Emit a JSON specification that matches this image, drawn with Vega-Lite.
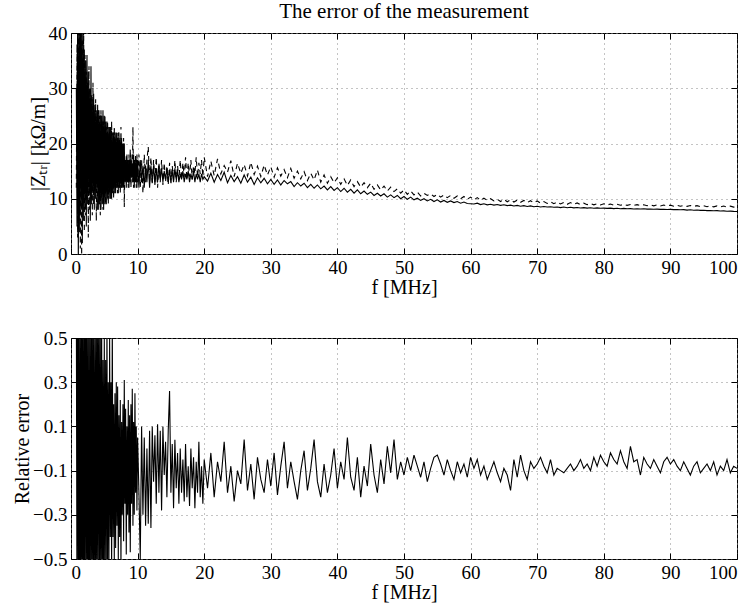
{
  "$schema": "https://vega.github.io/schema/vega-lite/v6.json",
  "background": "white",
  "padding": {"left": 12, "top": 0, "right": 15, "bottom": 5},
  "data": {"values": [
    {"f":0.8,"z":30,"d":12,"e":0.7},{"f":0.9,"z":5,"d":38,"e":-0.8},{"f":1.0,"z":44,"d":3,"e":0.9},{"f":1.1,"z":-2,"d":45,"e":-0.6},
    {"f":1.2,"z":42,"d":6,"e":0.8},{"f":1.3,"z":4,"d":41,"e":-0.9},{"f":1.4,"z":46,"d":1,"e":0.5},{"f":1.5,"z":8,"d":44,"e":-0.7},
    {"f":1.6,"z":40,"d":-1,"e":0.9},{"f":1.7,"z":2,"d":39,"e":-0.8},{"f":1.8,"z":43,"d":9,"e":0.6},{"f":1.9,"z":6,"d":42,"e":-0.9},
    {"f":2.0,"z":37,"d":4,"e":0.8},{"f":2.1,"z":8,"d":36,"e":-0.7},{"f":2.2,"z":35,"d":7,"e":0.9},{"f":2.3,"z":5,"d":33,"e":-0.6},
    {"f":2.4,"z":36,"d":10,"e":0.7},{"f":2.5,"z":9,"d":31,"e":-0.8},{"f":2.6,"z":33,"d":3,"e":0.6},{"f":2.7,"z":11,"d":34,"e":-0.9},
    {"f":2.8,"z":30,"d":8,"e":0.5},{"f":2.9,"z":6,"d":30,"e":-0.7},{"f":3.0,"z":34,"d":10,"e":0.8},{"f":3.1,"z":9,"d":29,"e":-0.6},
    {"f":3.2,"z":28,"d":7,"e":0.7},{"f":3.3,"z":11,"d":31,"e":-0.8},{"f":3.4,"z":29,"d":9,"e":0.6},{"f":3.5,"z":8,"d":26,"e":-0.7},
    {"f":3.6,"z":27,"d":12,"e":0.5},{"f":3.7,"z":10,"d":28,"e":-0.6},{"f":3.8,"z":26,"d":6,"e":0.7},{"f":3.9,"z":12,"d":25,"e":-0.8},
    {"f":4.0,"z":27,"d":8,"e":0.6},{"f":4.1,"z":8,"d":26,"e":-0.5},{"f":4.2,"z":26,"d":9,"e":0.7},{"f":4.3,"z":9,"d":25,"e":-0.7},
    {"f":4.4,"z":25,"d":7,"e":0.5},{"f":4.5,"z":8,"d":26,"e":-0.6},{"f":4.6,"z":25,"d":10,"e":0.6},{"f":4.7,"z":9,"d":24,"e":-0.7},
    {"f":4.8,"z":26,"d":8,"e":0.4},{"f":4.9,"z":8,"d":24,"e":-0.6},{"f":5.0,"z":25,"d":10,"e":0.5},{"f":5.1,"z":9,"d":25,"e":-0.6},
    {"f":5.2,"z":24,"d":9,"e":0.4},{"f":5.3,"z":9,"d":23,"e":-0.5},{"f":5.4,"z":24,"d":11,"e":0.6},{"f":5.5,"z":10,"d":24,"e":-0.6},
    {"f":5.6,"z":23,"d":9,"e":0.3},{"f":5.7,"z":10,"d":22,"e":-0.5},{"f":5.8,"z":23,"d":11,"e":0.5},{"f":5.9,"z":10,"d":23,"e":-0.4},
    {"f":6.0,"z":23,"d":10,"e":0.3},{"f":6.1,"z":10,"d":24,"e":-0.6},{"f":6.2,"z":22,"d":11,"e":0.6},{"f":6.3,"z":11,"d":22,"e":-0.4},
    {"f":6.4,"z":22,"d":10,"e":0.2},{"f":6.5,"z":11,"d":23,"e":-0.5},{"f":6.6,"z":22,"d":12,"e":0.25},{"f":6.7,"z":11,"d":21,"e":-0.45},
    {"f":6.8,"z":22,"d":12,"e":0.3},{"f":6.9,"z":12,"d":22,"e":-0.35},{"f":7.0,"z":21,"d":11,"e":0.28},{"f":7.1,"z":11,"d":22,"e":-0.5},
    {"f":7.2,"z":22,"d":12,"e":0.15},{"f":7.3,"z":12,"d":21,"e":-0.4},{"f":7.4,"z":21,"d":11,"e":0.22},{"f":7.5,"z":12,"d":23,"e":-0.55},
    {"f":7.6,"z":21,"d":12,"e":0.12},{"f":7.7,"z":12,"d":20,"e":-0.3},{"f":7.8,"z":20,"d":12,"e":0.2},{"f":7.9,"z":12,"d":21,"e":-0.42},
    {"f":8.0,"z":20,"d":8.5,"e":0.31},{"f":8.1,"z":13,"d":17,"e":-0.25},{"f":8.2,"z":17,"d":13,"e":0.18},{"f":8.3,"z":12,"d":18,"e":-0.48},
    {"f":8.4,"z":18,"d":13,"e":0.1},{"f":8.5,"z":13,"d":17,"e":-0.3},{"f":8.6,"z":17,"d":12,"e":0.22},{"f":8.7,"z":12,"d":18,"e":-0.38},
    {"f":8.8,"z":17,"d":14,"e":0.15},{"f":8.9,"z":13,"d":19,"e":-0.47},{"f":9.0,"z":18,"d":12,"e":0.2},{"f":9.1,"z":14,"d":17,"e":-0.25},
    {"f":9.2,"z":16,"d":13,"e":0.27},{"f":9.3,"z":13,"d":23,"e":-0.35},{"f":9.4,"z":18,"d":12,"e":0.12},{"f":9.5,"z":12,"d":17,"e":-0.3},
    {"f":9.6,"z":17,"d":14,"e":0.25},{"f":9.7,"z":13,"d":18,"e":-0.2},{"f":9.8,"z":17,"d":12,"e":0.1},{"f":9.9,"z":12,"d":18,"e":-0.28},
    {"f":10.0,"z":17,"d":13,"e":0.05},
    {"f":10.2,"z":12,"d":18,"e":-0.2},{"f":10.4,"z":17,"d":12,"e":-0.5},{"f":10.6,"z":13,"d":17,"e":0.1},{"f":10.8,"z":16,"d":11,"e":-0.3},
    {"f":11.0,"z":12,"d":18,"e":0.05},{"f":11.2,"z":16,"d":13,"e":-0.35},{"f":11.4,"z":13,"d":17,"e":0.0},{"f":11.6,"z":17,"d":19.4,"e":-0.34},
    {"f":11.8,"z":12,"d":13,"e":0.08},{"f":12.0,"z":16,"d":17.5,"e":-0.36},{"f":12.2,"z":13,"d":12.5,"e":0.1},{"f":12.4,"z":16,"d":17,"e":-0.15},
    {"f":12.6,"z":12.5,"d":13,"e":0.06},{"f":12.8,"z":15.5,"d":17.5,"e":-0.25},{"f":13.0,"z":13,"d":12,"e":0.11},{"f":13.2,"z":16,"d":16.5,"e":-0.2},
    {"f":13.4,"z":13.5,"d":13,"e":0.08},{"f":13.6,"z":15.5,"d":17,"e":-0.28},{"f":13.8,"z":13,"d":12.5,"e":0.1},{"f":14.0,"z":15,"d":16.5,"e":-0.12},
    {"f":14.2,"z":13.5,"d":13,"e":0.03},{"f":14.4,"z":15.5,"d":16,"e":-0.22},{"f":14.6,"z":13,"d":12.5,"e":0.08},{"f":14.8,"z":15,"d":16.5,"e":0.26},
    {"f":15.0,"z":13.5,"d":12.5,"e":-0.2},{"f":15.2,"z":15,"d":16,"e":0.02},{"f":15.4,"z":13,"d":13.5,"e":-0.27},{"f":15.6,"z":15.5,"d":17,"e":0.04},
    {"f":15.8,"z":13.5,"d":13,"e":-0.18},{"f":16.0,"z":15,"d":16,"e":-0.02},{"f":16.2,"z":13,"d":13.5,"e":-0.25},{"f":16.4,"z":14.5,"d":17,"e":0.0},
    {"f":16.6,"z":13.5,"d":13.5,"e":-0.2},{"f":16.8,"z":15,"d":16.5,"e":-0.05},{"f":17.0,"z":13,"d":14,"e":-0.24},{"f":17.2,"z":14.5,"d":17.5,"e":0.02},
    {"f":17.4,"z":13.5,"d":13.5,"e":-0.22},{"f":17.6,"z":15,"d":16.5,"e":-0.08},{"f":17.8,"z":13,"d":14,"e":-0.26},{"f":18.0,"z":14.5,"d":17,"e":0.0},
    {"f":18.2,"z":13.5,"d":13.5,"e":-0.18},{"f":18.4,"z":15,"d":16,"e":-0.04},{"f":18.6,"z":13,"d":14.5,"e":-0.27},{"f":18.8,"z":14.5,"d":17.5,"e":-0.06},
    {"f":19.0,"z":13.5,"d":14,"e":-0.2},{"f":19.2,"z":14.5,"d":16.5,"e":0.03},{"f":19.4,"z":13,"d":14.5,"e":-0.22},{"f":19.6,"z":14.5,"d":17,"e":-0.08},
    {"f":19.8,"z":13.5,"d":14,"e":-0.25},{"f":20.0,"z":14,"d":17.5,"e":-0.05},
    {"f":20.5,"z":13.2,"d":14.0,"e":-0.18},{"f":21.0,"z":14.6,"d":16.8,"e":-0.02},{"f":21.5,"z":13.0,"d":14.2,"e":-0.22},{"f":22.0,"z":14.4,"d":17.2,"e":-0.06},
    {"f":22.5,"z":13.3,"d":14.5,"e":-0.15},{"f":23.0,"z":14.8,"d":16.0,"e":0.03},{"f":23.5,"z":12.9,"d":14.8,"e":-0.2},{"f":24.0,"z":14.2,"d":16.9,"e":-0.08},
    {"f":24.5,"z":13.1,"d":14.0,"e":-0.24},{"f":25.0,"z":14.0,"d":16.4,"e":-0.1},{"f":25.5,"z":12.8,"d":14.6,"e":-0.16},{"f":26.0,"z":14.3,"d":16.2,"e":0.04},
    {"f":26.5,"z":13.0,"d":14.1,"e":-0.19},{"f":27.0,"z":13.9,"d":16.6,"e":-0.07},{"f":27.5,"z":12.6,"d":14.4,"e":-0.23},{"f":28.0,"z":13.8,"d":15.9,"e":-0.04},
    {"f":28.5,"z":12.9,"d":14.0,"e":-0.14},{"f":29.0,"z":13.7,"d":16.1,"e":-0.2},{"f":29.5,"z":12.7,"d":14.3,"e":-0.05},{"f":30.0,"z":13.5,"d":15.8,"e":-0.17},
    {"f":30.5,"z":12.6,"d":13.9,"e":-0.02},{"f":31.0,"z":13.4,"d":15.6,"e":-0.21},{"f":31.5,"z":12.5,"d":14.1,"e":-0.08},{"f":32.0,"z":13.3,"d":15.3,"e":0.03},
    {"f":32.5,"z":12.7,"d":13.8,"e":-0.18},{"f":33.0,"z":13.1,"d":15.5,"e":-0.06},{"f":33.5,"z":12.2,"d":13.7,"e":-0.15},{"f":34.0,"z":12.9,"d":15.0,"e":-0.23},
    {"f":34.5,"z":12.3,"d":13.6,"e":-0.1},{"f":35.0,"z":12.8,"d":14.9,"e":-0.01},{"f":35.5,"z":12.0,"d":13.3,"e":-0.19},{"f":36.0,"z":12.6,"d":14.6,"e":-0.09},
    {"f":36.5,"z":11.9,"d":13.4,"e":0.04},{"f":37.0,"z":12.5,"d":15.2,"e":-0.15},{"f":37.5,"z":11.8,"d":13.0,"e":-0.22},{"f":38.0,"z":12.3,"d":14.3,"e":-0.07},
    {"f":38.5,"z":11.6,"d":12.8,"e":-0.2},{"f":39.0,"z":12.2,"d":14.0,"e":-0.12},{"f":39.5,"z":11.5,"d":12.9,"e":0.0},{"f":40.0,"z":12.0,"d":13.8,"e":-0.18},
    {"f":40.5,"z":11.3,"d":12.6,"e":-0.06},{"f":41.0,"z":11.9,"d":13.6,"e":-0.14},{"f":41.5,"z":11.2,"d":12.4,"e":0.05},{"f":42.0,"z":11.7,"d":13.4,"e":-0.13},
    {"f":42.5,"z":11.0,"d":12.2,"e":-0.19},{"f":43.0,"z":11.6,"d":13.1,"e":-0.04},{"f":43.5,"z":10.9,"d":12.1,"e":-0.22},{"f":44.0,"z":11.4,"d":12.9,"e":-0.08},
    {"f":44.5,"z":10.8,"d":12.0,"e":-0.17},{"f":45.0,"z":11.2,"d":12.8,"e":0.02},{"f":45.5,"z":10.6,"d":11.7,"e":-0.12},{"f":46.0,"z":11.0,"d":12.5,"e":-0.2},
    {"f":46.5,"z":10.5,"d":11.6,"e":-0.05},{"f":47.0,"z":10.9,"d":12.3,"e":-0.16},{"f":47.5,"z":10.3,"d":11.4,"e":0.01},{"f":48.0,"z":10.7,"d":12.1,"e":-0.11},
    {"f":48.5,"z":10.2,"d":11.3,"e":0.04},{"f":49.0,"z":10.6,"d":11.8,"e":-0.14},{"f":49.5,"z":10.0,"d":11.0,"e":-0.06},{"f":50.0,"z":10.4,"d":11.6,"e":-0.12},
    {"f":50.5,"z":9.9,"d":10.8,"e":-0.04},{"f":51.0,"z":10.3,"d":11.4,"e":-0.1},{"f":51.5,"z":9.8,"d":10.7,"e":-0.03},{"f":52.0,"z":10.1,"d":11.2,"e":-0.08},
    {"f":52.5,"z":9.7,"d":10.5,"e":-0.13},{"f":53.0,"z":10.0,"d":11.0,"e":-0.06},{"f":53.5,"z":9.6,"d":10.6,"e":-0.15},{"f":54.0,"z":9.9,"d":10.9,"e":-0.09},
    {"f":54.5,"z":9.5,"d":10.4,"e":-0.04},{"f":55.0,"z":9.8,"d":10.8,"e":-0.03},{"f":55.5,"z":9.4,"d":10.3,"e":-0.07},{"f":56.0,"z":9.7,"d":10.7,"e":-0.12},
    {"f":56.5,"z":9.35,"d":10.2,"e":-0.05},{"f":57.0,"z":9.6,"d":10.6,"e":-0.1},{"f":57.5,"z":9.3,"d":10.1,"e":-0.14},{"f":58.0,"z":9.5,"d":10.5,"e":-0.06},
    {"f":58.5,"z":9.2,"d":10.0,"e":-0.11},{"f":59.0,"z":9.4,"d":10.4,"e":-0.07},{"f":59.5,"z":9.15,"d":9.9,"e":-0.13},{"f":60.0,"z":9.1,"d":10.3,"e":-0.04},
    {"f":60.5,"z":9.05,"d":9.8,"e":-0.09},{"f":61.0,"z":9.2,"d":10.2,"e":-0.05},{"f":61.5,"z":8.95,"d":9.7,"e":-0.12},{"f":62.0,"z":9.1,"d":10.1,"e":-0.08},
    {"f":62.5,"z":8.9,"d":9.7,"e":-0.14},{"f":63.0,"z":9.0,"d":10.0,"e":-0.1},{"f":63.5,"z":8.85,"d":9.6,"e":-0.06},{"f":64.0,"z":8.95,"d":9.9,"e":-0.11},
    {"f":64.5,"z":8.8,"d":9.5,"e":-0.15},{"f":65.0,"z":8.9,"d":9.9,"e":-0.09},{"f":65.5,"z":8.75,"d":9.45,"e":-0.12},{"f":66.0,"z":8.85,"d":9.8,"e":-0.19},
    {"f":66.5,"z":8.7,"d":9.4,"e":-0.05},{"f":67.0,"z":8.8,"d":9.75,"e":-0.13},{"f":67.5,"z":8.65,"d":9.35,"e":-0.03},{"f":68.0,"z":8.75,"d":9.7,"e":-0.1},
    {"f":68.5,"z":8.6,"d":9.3,"e":-0.14},{"f":69.0,"z":8.7,"d":9.65,"e":-0.06},{"f":69.5,"z":8.55,"d":9.25,"e":-0.09},{"f":70.0,"z":8.65,"d":9.6,"e":-0.07},
    {"f":70.5,"z":8.5,"d":9.2,"e":-0.04},{"f":71.0,"z":8.6,"d":9.5,"e":-0.08},{"f":71.5,"z":8.5,"d":9.15,"e":-0.11},{"f":72.0,"z":8.55,"d":9.45,"e":-0.05},
    {"f":72.5,"z":8.45,"d":9.1,"e":-0.12},{"f":73.0,"z":8.5,"d":9.4,"e":-0.09},{"f":73.5,"z":8.4,"d":9.05,"e":-0.1},{"f":74.0,"z":8.5,"d":9.35,"e":-0.11},
    {"f":74.5,"z":8.38,"d":9.0,"e":-0.09},{"f":75.0,"z":8.45,"d":9.3,"e":-0.07},{"f":75.5,"z":8.35,"d":8.98,"e":-0.1},{"f":76.0,"z":8.42,"d":9.25,"e":-0.08},
    {"f":76.5,"z":8.33,"d":8.95,"e":-0.05},{"f":77.0,"z":8.4,"d":9.2,"e":-0.09},{"f":77.5,"z":8.3,"d":8.93,"e":-0.07},{"f":78.0,"z":8.38,"d":9.15,"e":-0.1},
    {"f":78.5,"z":8.28,"d":8.9,"e":-0.04},{"f":79.0,"z":8.35,"d":9.12,"e":-0.08},{"f":79.5,"z":8.27,"d":8.88,"e":-0.03},{"f":80.0,"z":8.3,"d":9.1,"e":-0.06},
    {"f":80.5,"z":8.25,"d":8.86,"e":-0.08},{"f":81.0,"z":8.3,"d":9.05,"e":-0.02},{"f":81.5,"z":8.22,"d":8.84,"e":-0.05},{"f":82.0,"z":8.28,"d":9.0,"e":-0.07},
    {"f":82.5,"z":8.2,"d":8.82,"e":-0.01},{"f":83.0,"z":8.25,"d":8.98,"e":-0.06},{"f":83.5,"z":8.18,"d":8.8,"e":-0.09},{"f":84.0,"z":8.22,"d":8.96,"e":0.01},
    {"f":84.5,"z":8.15,"d":8.78,"e":-0.06},{"f":85.0,"z":8.2,"d":8.94,"e":-0.05},{"f":85.5,"z":8.14,"d":8.76,"e":-0.12},{"f":86.0,"z":8.18,"d":8.92,"e":-0.04},
    {"f":86.5,"z":8.12,"d":8.74,"e":-0.07},{"f":87.0,"z":8.15,"d":8.9,"e":-0.09},{"f":87.5,"z":8.1,"d":8.72,"e":-0.05},{"f":88.0,"z":8.12,"d":8.88,"e":-0.08},
    {"f":88.5,"z":8.07,"d":8.7,"e":-0.11},{"f":89.0,"z":8.1,"d":8.86,"e":-0.06},{"f":89.5,"z":8.05,"d":8.68,"e":-0.04},{"f":90.0,"z":8.08,"d":8.84,"e":-0.07},
    {"f":90.5,"z":8.03,"d":8.66,"e":-0.05},{"f":91.0,"z":8.06,"d":8.82,"e":-0.08},{"f":91.5,"z":8.0,"d":8.64,"e":-0.1},{"f":92.0,"z":8.03,"d":8.8,"e":-0.06},
    {"f":92.5,"z":7.95,"d":8.62,"e":-0.09},{"f":93.0,"z":8.0,"d":8.78,"e":-0.12},{"f":93.5,"z":7.93,"d":8.6,"e":-0.08},{"f":94.0,"z":7.97,"d":8.76,"e":-0.06},
    {"f":94.5,"z":7.9,"d":8.58,"e":-0.11},{"f":95.0,"z":7.93,"d":8.74,"e":-0.09},{"f":95.5,"z":7.85,"d":8.56,"e":-0.07},{"f":96.0,"z":7.88,"d":8.72,"e":-0.1},
    {"f":96.5,"z":7.82,"d":8.54,"e":-0.06},{"f":97.0,"z":7.85,"d":8.7,"e":-0.12},{"f":97.5,"z":7.78,"d":8.52,"e":-0.08},{"f":98.0,"z":7.8,"d":8.68,"e":-0.1},
    {"f":98.5,"z":7.75,"d":8.5,"e":-0.05},{"f":99.0,"z":7.76,"d":8.66,"e":-0.11},{"f":99.5,"z":7.72,"d":8.48,"e":-0.08},{"f":100.0,"z":7.7,"d":8.6,"e":-0.09}
  ]},
  "spacing": 30,
  "vconcat": [
    {
      "width": 666,
      "height": 221,
      "title": {"text": "The error of the measurement", "offset": 2},
      "layer": [
        {
          "mark": {"type": "line", "color": "black", "strokeWidth": 1.1, "clip": true},
          "encoding": {
            "x": {"field": "f", "type": "quantitative", "title": "f [MHz]",
                  "scale": {"domain": [0, 100], "nice": false},
                  "axis": {"values": [0,10,20,30,40,50,60,70,80,90,100], "grid": true}},
            "y": {"field": "z", "type": "quantitative", "title": "|Zₜᵣ| [kΩ/m]",
                  "scale": {"domain": [0, 40], "nice": false},
                  "axis": {"values": [0,10,20,30,40], "grid": true}}
          }
        },
        {
          "mark": {"type": "line", "color": "black", "strokeWidth": 1.1, "strokeDash": [5, 4], "clip": true},
          "encoding": {
            "x": {"field": "f", "type": "quantitative", "scale": {"domain": [0, 100], "nice": false},
                  "axis": {"orient": "top", "values": [0,10,20,30,40,50,60,70,80,90,100], "labels": false, "title": null, "grid": false}},
            "y": {"field": "d", "type": "quantitative", "scale": {"domain": [0, 40], "nice": false},
                  "axis": {"orient": "right", "values": [0,10,20,30,40], "labels": false, "title": null, "grid": false}}
          }
        }
      ],
      "resolve": {"axis": {"x": "independent", "y": "independent"}}
    },
    {
      "width": 666,
      "height": 221,
      "layer": [
        {
          "mark": {"type": "line", "color": "black", "strokeWidth": 1.1, "clip": true},
          "encoding": {
            "x": {"field": "f", "type": "quantitative", "title": "f [MHz]",
                  "scale": {"domain": [0, 100], "nice": false},
                  "axis": {"values": [0,10,20,30,40,50,60,70,80,90,100], "grid": true}},
            "y": {"field": "e", "type": "quantitative", "title": "Relative error",
                  "scale": {"domain": [-0.5, 0.5], "nice": false},
                  "axis": {"values": [-0.5,-0.3,-0.1,0.1,0.3,0.5], "format": ".1f", "grid": true}}
          }
        },
        {
          "mark": {"type": "line", "color": "black", "opacity": 0, "clip": true},
          "encoding": {
            "x": {"field": "f", "type": "quantitative", "scale": {"domain": [0, 100], "nice": false},
                  "axis": {"orient": "top", "values": [0,10,20,30,40,50,60,70,80,90,100], "labels": false, "title": null, "grid": false}},
            "y": {"field": "e", "type": "quantitative", "scale": {"domain": [-0.5, 0.5], "nice": false},
                  "axis": {"orient": "right", "values": [-0.5,-0.3,-0.1,0.1,0.3,0.5], "labels": false, "title": null, "grid": false}}
          }
        }
      ],
      "resolve": {"axis": {"x": "independent", "y": "independent"}}
    }
  ],
  "config": {
    "font": "Liberation Serif",
    "view": {"stroke": "black", "strokeWidth": 1},
    "title": {"font": "Liberation Serif", "fontSize": 21, "fontWeight": "normal", "color": "black"},
    "axis": {
      "domain": false,
      "tickColor": "black",
      "tickSize": -6,
      "labelPadding": 10,
      "labelFont": "Liberation Serif",
      "labelFontSize": 19,
      "labelColor": "black",
      "titleFont": "Liberation Serif",
      "titleFontSize": 20,
      "titleFontWeight": "normal",
      "titleColor": "black",
      "titlePadding": 0,
      "gridColor": "#888888",
      "gridDash": [1, 4],
      "gridWidth": 1,
      "gridOpacity": 1
    }
  }
}
